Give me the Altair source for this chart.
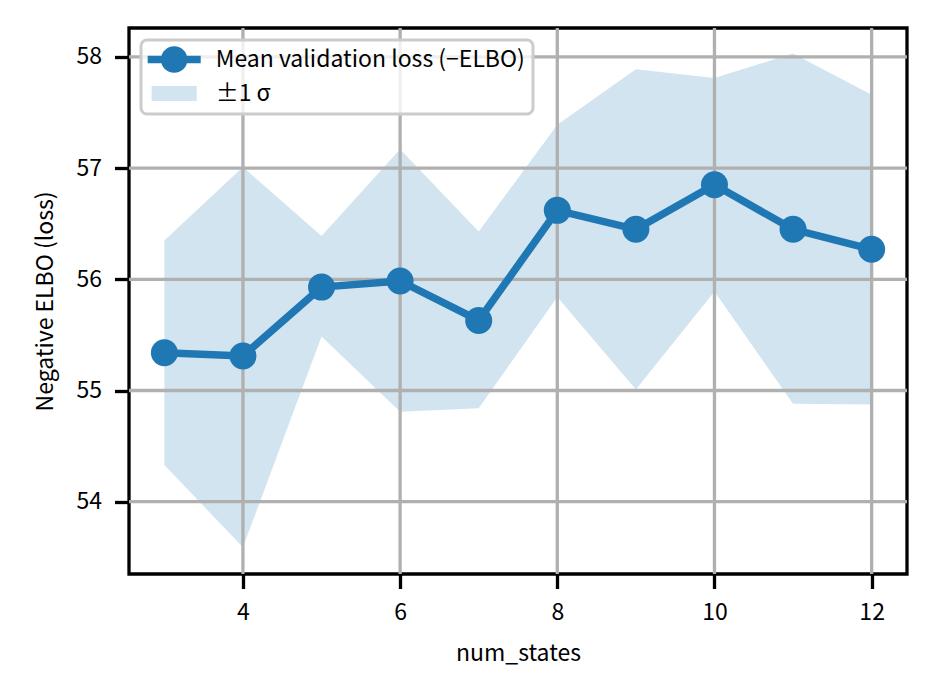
import altair as alt
import pandas as pd

num_states = [3, 4, 5, 6, 7, 8, 9, 10, 11, 12]
mean_loss = [55.34, 55.31, 55.93, 55.985, 55.63, 56.62, 56.45, 56.85, 56.45, 56.27]
upper = [56.35, 57.01, 56.39, 57.17, 56.43, 57.39, 57.89, 57.81, 58.03, 57.66]
lower = [54.33, 53.59, 55.485, 54.81, 54.84, 55.84, 55.01, 55.89, 54.88, 54.875]
x_ticks = [4, 6, 8, 10, 12]
y_ticks = [54, 55, 56, 57, 58]
series_names = ["Mean validation loss (\u2212ELBO)", "\u00b11 \u03c3"]

FONT = "Noto Sans CJK JP"
LEGEND_FONT = "Noto Sans CJK KR"
BLUE = "#1f77b4"
GRID = "#b0b0b0"

df = pd.DataFrame({"num_states": num_states, "mean": mean_loss,
                   "upper": upper, "lower": lower})
xs = alt.Scale(domain=[2.55, 12.45], nice=False, zero=False)
ys = alt.Scale(domain=[53.35, 58.26], nice=False, zero=False)

x_axis = alt.Axis(values=x_ticks, grid=False, domain=False, title="num_states",
                  format="d")
y_axis = alt.Axis(values=y_ticks, grid=False, domain=False,
                  title="Negative ELBO (loss)", format="d")

band = alt.Chart(df).mark_area(color=BLUE, opacity=0.2).encode(
    x=alt.X("num_states:Q", scale=xs, axis=x_axis),
    y=alt.Y("lower:Q", scale=ys, axis=y_axis),
    y2="upper:Q",
)

gx = alt.Chart(pd.DataFrame({"v": x_ticks})).mark_rule(
    color=GRID, strokeWidth=3.3).encode(
    x=alt.X("v:Q", scale=xs, title="num_states"))
gy = alt.Chart(pd.DataFrame({"v": y_ticks})).mark_rule(
    color=GRID, strokeWidth=3.3).encode(
    y=alt.Y("v:Q", scale=ys, title="Negative ELBO (loss)"))

line = alt.Chart(df).mark_line(color=BLUE, strokeWidth=7.5).encode(
    x=alt.X("num_states:Q", scale=xs, title="num_states"),
    y=alt.Y("mean:Q", scale=ys, title="Negative ELBO (loss)"),
)
pts = alt.Chart(df).mark_point(filled=True, color=BLUE, size=729, opacity=1).encode(
    x=alt.X("num_states:Q", scale=xs, title="num_states"),
    y=alt.Y("mean:Q", scale=ys, title="Negative ELBO (loss)"),
)

line_sym = ("M-2.41,-0.34L2.41,-0.34L2.41,0.34L-2.41,0.34Z "
            "M1.21,0A1.21,1.21 0 1,1 -1.21,0A1.21,1.21 0 1,1 1.21,0Z")
band_sym = "M-2.05,-0.68L2.05,-0.68L2.05,0.68L-2.05,0.68Z"

leg = alt.Legend(title=None, orient="top-left", offset=12, padding=8,
                 fillColor="rgba(255,255,255,0.8)", strokeColor="#cccccc",
                 cornerRadius=6, symbolSize=484, symbolOffset=13.7,
                 labelOffset=30, labelFont=LEGEND_FONT, labelFontSize=23,
                 labelColor="black", labelLimit=600, rowPadding=9,
                 symbolStrokeWidth=0, symbolOpacity=1)

legend_layer = alt.Chart(pd.DataFrame({"series": series_names})).mark_point(
    filled=True, opacity=0).encode(
    x=alt.value(0), y=alt.value(0),
    color=alt.Color("series:N", scale=alt.Scale(domain=series_names,
                    range=[BLUE, "#d2e4f0"]), legend=leg),
    shape=alt.Shape("series:N", scale=alt.Scale(domain=series_names,
                    range=[line_sym, band_sym]), legend=leg),
)

chart = alt.layer(band, gx, gy, line, pts, legend_layer).properties(
    width=778, height=546,
    padding={"left": 121, "top": 20, "right": 20, "bottom": 100},
    autosize=alt.AutoSizeParams(type="none"),
).configure_view(
    stroke="black", strokeWidth=3.3
).configure_axis(
    labelFont=FONT, labelFontSize=23, labelColor="black",
    titleFont=FONT, titleFontSize=23, titleFontWeight="normal", titleColor="black",
    tickColor="black", tickWidth=3.3, tickSize=14.5, labelPadding=13,
    titlePadding=18,
)

try:
    candidate = chart.configure_legend(strokeWidth=3)
    candidate.to_dict()
    chart = candidate
except Exception:
    pass

chart.save("out.html", embed_options={"renderer": "svg", "actions": False})
